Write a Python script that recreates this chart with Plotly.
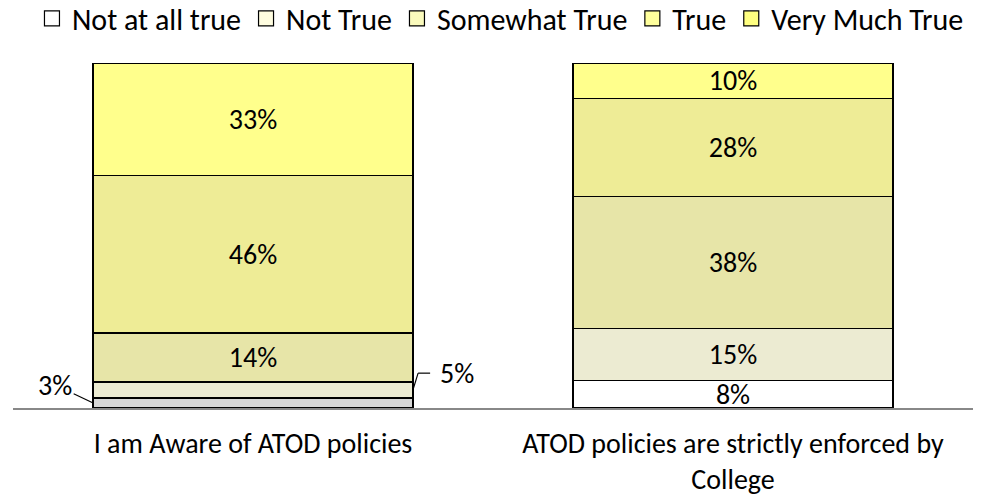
import plotly.graph_objects as go

categories = ["I am Aware of ATOD policies", "ATOD policies are strictly enforced by College"]
tick_labels = ["I am Aware of ATOD policies", "ATOD policies are strictly enforced by<br>College"]
series_names = ["Not at all true", "Not True", "Somewhat True", "True", "Very Much True"]

not_at_all_true = [2.9, 8.0]
not_true = [4.6, 15.0]
somewhat_true = [14.2, 38.3]
true_vals = [45.7, 28.4]
very_much_true = [32.6, 10.3]

series_values = [not_at_all_true, not_true, somewhat_true, true_vals, very_much_true]

bar_colors = [
    ["#d6d6d6", "#ffffff"],
    ["#ecebd2", "#ecebd2"],
    ["#e7e5a8", "#e7e5a8"],
    ["#eeec96", "#eeec96"],
    ["#ffff8c", "#ffff8c"],
]
legend_colors = ["#ffffff", "#fffde0", "#fafabc", "#ffff9c", "#ffff80"]

FONT = "Carlito, Lato, sans-serif"
LABEL_SIZE = 28
AXIS_SIZE = 28
LEGEND_SIZE = 30

fig = go.Figure()
for name, vals, cols in zip(series_names, series_values, bar_colors):
    texts = ["" if v < 6 else f"{round(v)}%" for v in vals]
    fig.add_trace(go.Bar(
        x=categories, y=vals, name=name, showlegend=False,
        marker=dict(color=cols, line=dict(color="#000000", width=1.5)),
        text=texts, textposition="inside", insidetextanchor="middle",
        constraintext="none", textangle=0,
        textfont=dict(family=FONT, size=LABEL_SIZE, color="#000000"),
        width=0.667, hoverinfo="skip",
    ))

for name, col in zip(series_names, legend_colors):
    fig.add_trace(go.Scatter(
        x=[None], y=[None], name=name, showlegend=True, mode="markers",
        marker=dict(symbol="square", size=15, color=col,
                    line=dict(color="#000000", width=1.2)),
    ))

# small-value labels with leader lines (first bar)
v0 = not_at_all_true[0]
v1 = not_true[0]
fig.add_annotation(x=-0.333, y=v0 / 2, xref="x", yref="y", text=f"{round(v0)}%",
                   showarrow=True, arrowhead=0, arrowwidth=1.2, arrowcolor="#000000",
                   ax=-38, ay=-18, font=dict(family=FONT, size=LABEL_SIZE, color="#000000"))
fig.add_shape(type="line", xref="x", yref="y", x0=0.333, y0=v0 + v1 / 2,
              x1=0.344, y1=v0 + v1 + 2.6, line=dict(color="#000000", width=1.2))
fig.add_shape(type="line", xref="x", yref="y", x0=0.344, y0=v0 + v1 + 2.6,
              x1=0.369, y1=v0 + v1 + 2.6, line=dict(color="#000000", width=1.2))
fig.add_annotation(x=0.385, y=v0 + v1 + 2.6, xref="x", yref="y", text=f"{round(v1)}%",
                   showarrow=False, xanchor="left", yanchor="middle",
                   font=dict(family=FONT, size=LABEL_SIZE, color="#000000"))

fig.update_layout(
    barmode="stack",
    width=982, height=496,
    margin=dict(l=13, r=9, t=63, b=88, autoexpand=False),
    paper_bgcolor="#ffffff", plot_bgcolor="#ffffff",
    font=dict(family=FONT, size=AXIS_SIZE, color="#000000"),
    hovermode=False,
    legend=dict(orientation="h", x=0.9958, xanchor="right", y=1.2046, yanchor="top",
                yref="paper", itemwidth=30, traceorder="normal",
                bgcolor="rgba(0,0,0,0)",
                font=dict(family=FONT, size=LEGEND_SIZE, color="#000000")),
    xaxis=dict(tickvals=categories, ticktext=tick_labels, showline=True,
               linecolor="#888888", linewidth=2, ticks="", showgrid=False,
               ticklabelstandoff=9, automargin=False,
               tickfont=dict(family=FONT, size=AXIS_SIZE, color="#000000"),
               range=[-0.5, 1.5]),
    yaxis=dict(range=[0, 100], visible=False, showgrid=False, automargin=False),
)

fig.write_html("out.html", config={"displayModeBar": False},
               post_script="document.body.style.margin='0';document.body.style.overflow='hidden';")
